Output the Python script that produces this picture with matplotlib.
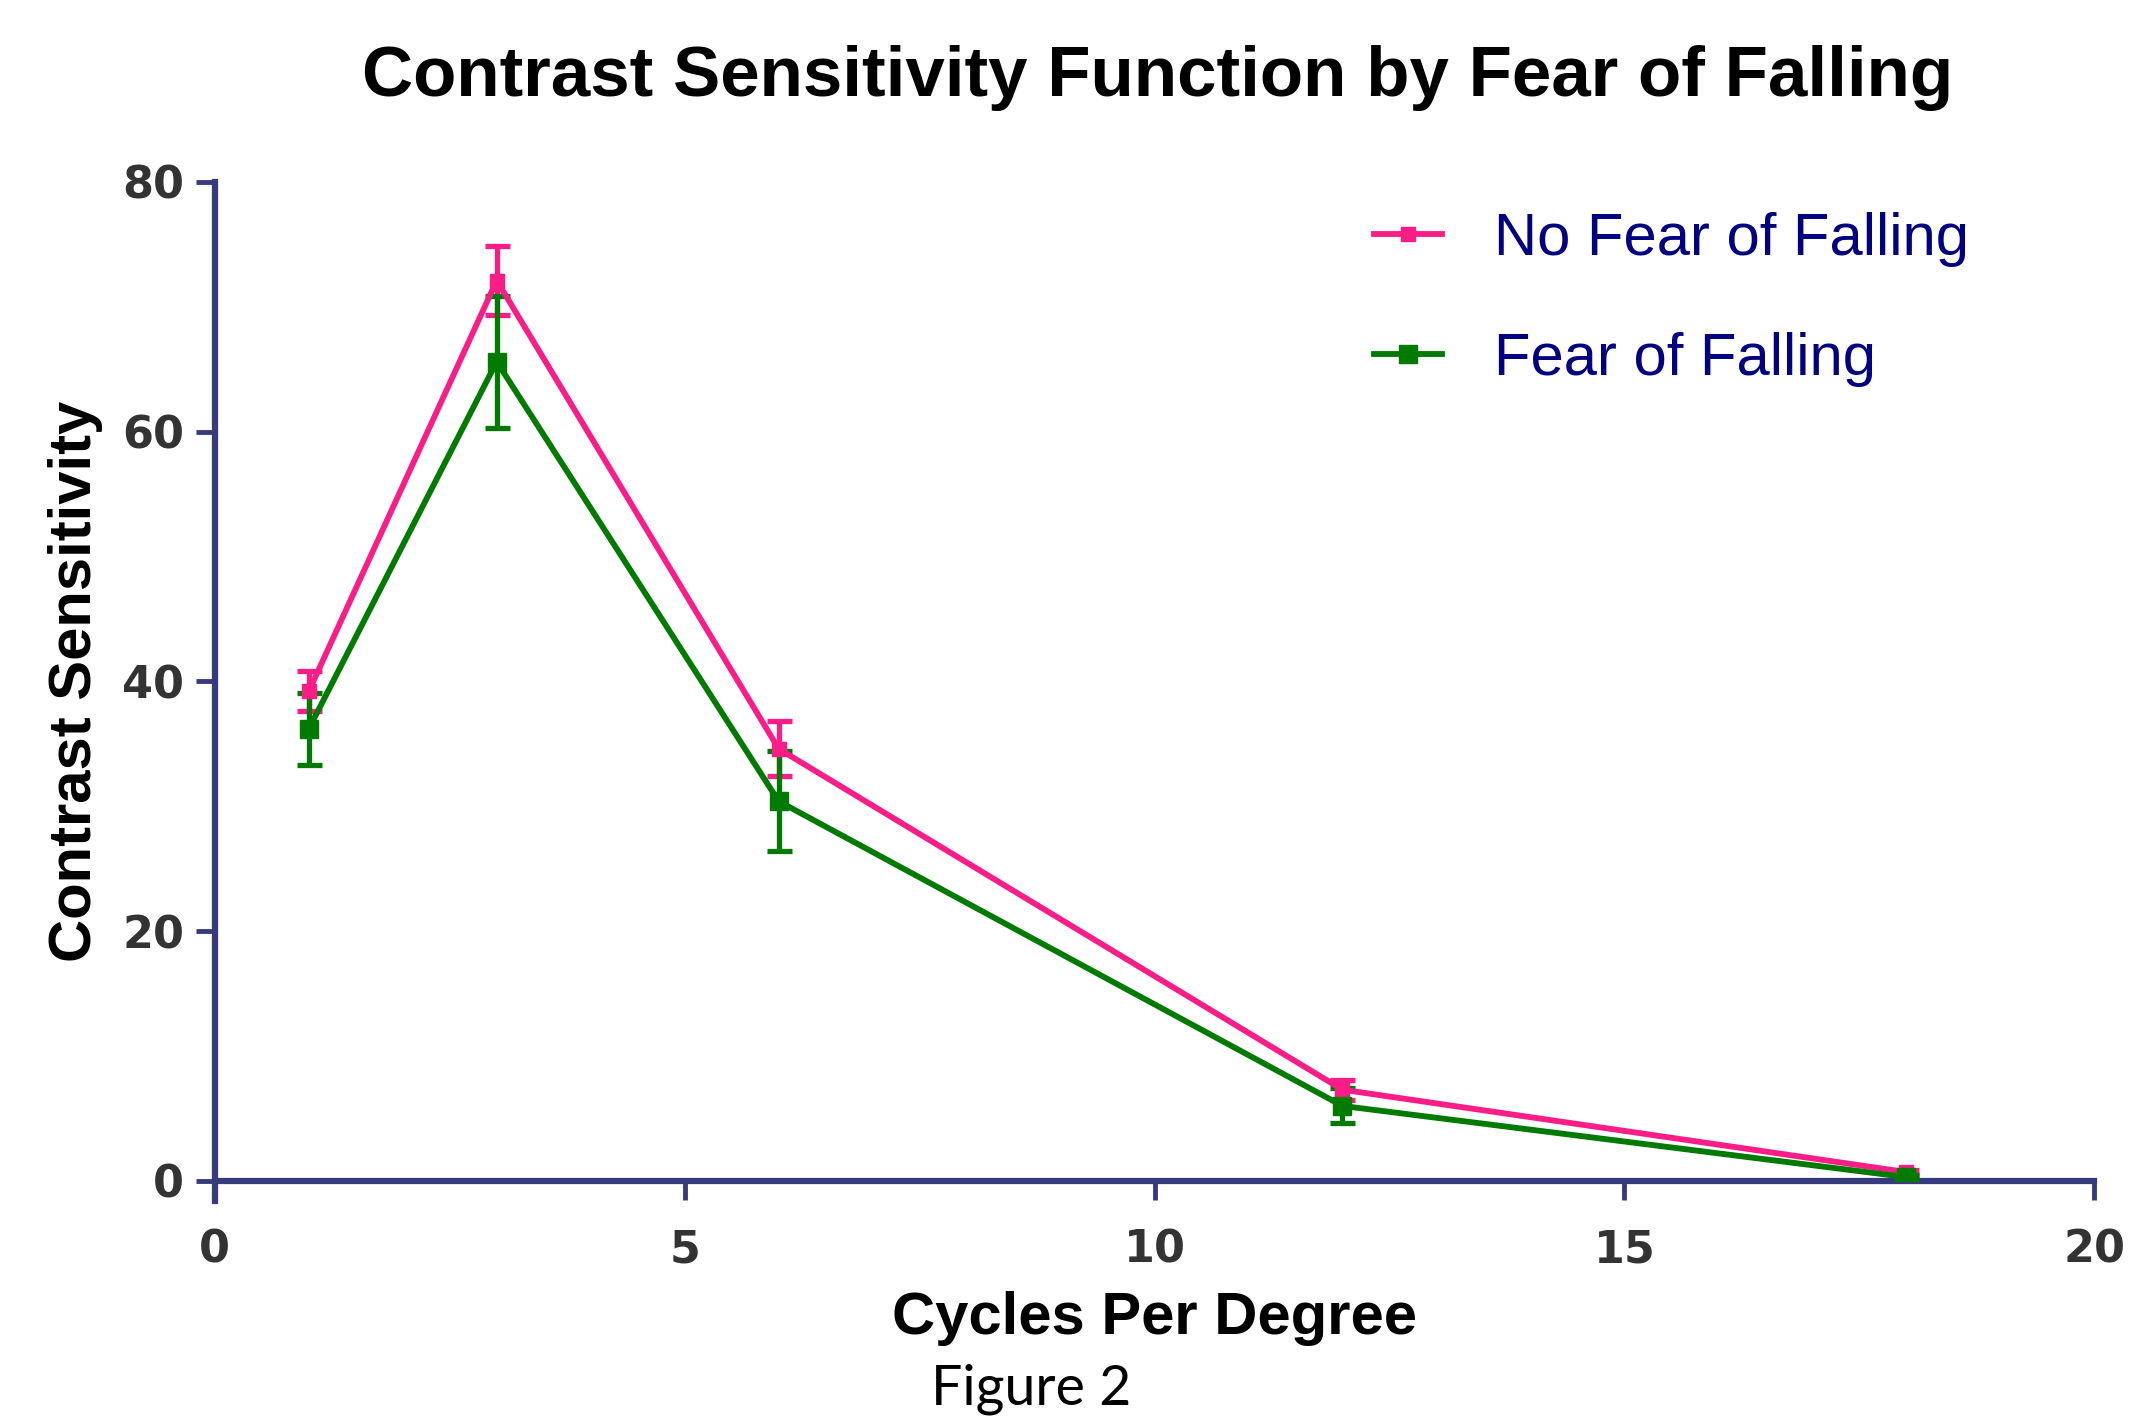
import matplotlib
matplotlib.use("Agg")
import matplotlib.pyplot as plt

# cycles per degree
cpd = [1, 3, 6, 12, 18]

# mean contrast sensitivity and error (half-width of bar)
no_fear = [39.2, 72.1, 34.6, 7.3, 0.7]
no_fear_err = [1.6, 2.8, 2.2, 0.8, 0.2]
fear = [36.2, 65.6, 30.4, 6.0, 0.3]
fear_err = [2.9, 5.3, 4.0, 1.4, 0.2]

x_ticks = [0, 5, 10, 15, 20]
y_ticks = [0, 20, 40, 60, 80]

pink = "#F81D87"
green = "#007A00"
axis_col = "#363B7E"

plt.rcParams['font.family'] = ['Liberation Sans', 'DejaVu Sans']

fig = plt.figure(figsize=(21.48, 14.21), dpi=100)
ax = fig.add_axes([0.100, 0.169, 0.875, 0.703])

# error bars first, lines + markers on top
ax.errorbar(cpd, no_fear, yerr=no_fear_err, fmt='none', ecolor=pink,
            elinewidth=3.8, capsize=9, capthick=3.8, zorder=3)
ax.errorbar(cpd, fear, yerr=fear_err, fmt='none', ecolor=green,
            elinewidth=3.8, capsize=9, capthick=3.8, zorder=4)
ax.plot(cpd, no_fear, color=pink, lw=4.2, marker='s', ms=10,
        label="No Fear of Falling", zorder=5)
ax.plot(cpd, fear, color=green, lw=4.2, marker='s', ms=13,
        label="Fear of Falling", zorder=6)

ax.set_xlim(0, 20)
ax.set_ylim(0, 80)
ax.set_xticks(x_ticks)
ax.set_yticks(y_ticks)

for side in ['top', 'right']:
    ax.spines[side].set_visible(False)
for side in ['left', 'bottom']:
    ax.spines[side].set_color(axis_col)
    ax.spines[side].set_linewidth(4.5)
ax.spines['left'].set_bounds(-1.6, 80)

ax.tick_params(axis='both', direction='out', length=14, width=3.5,
               color=axis_col, labelsize=32, labelcolor="#333333")
ax.tick_params(axis='x', pad=20)
ax.tick_params(axis='y', pad=8)
for lab in ax.get_xticklabels() + ax.get_yticklabels():
    lab.set_fontweight('bold')
    lab.set_family('DejaVu Sans')

ax.set_xlabel("Cycles Per Degree", fontsize=43, fontweight='bold', labelpad=14)
ax.set_ylabel("Contrast Sensitivity", fontsize=43, fontweight='bold', labelpad=14)

fig.text(0.539, 0.945, "Contrast Sensitivity Function by Fear of Falling",
         ha='center', va='center', fontsize=51, fontweight='bold')

leg = ax.legend(loc='upper left', bbox_to_anchor=(0.588, 1.024), frameon=False,
                fontsize=43, handlelength=1.15, handletextpad=0.87,
                labelspacing=1.1, labelcolor="#000080")

fig.text(0.48, 0.022, "Figure 2", ha='center', va='center', fontsize=40,
         family=['Lato', 'DejaVu Sans'])

fig.savefig("out.png", dpi=100)
